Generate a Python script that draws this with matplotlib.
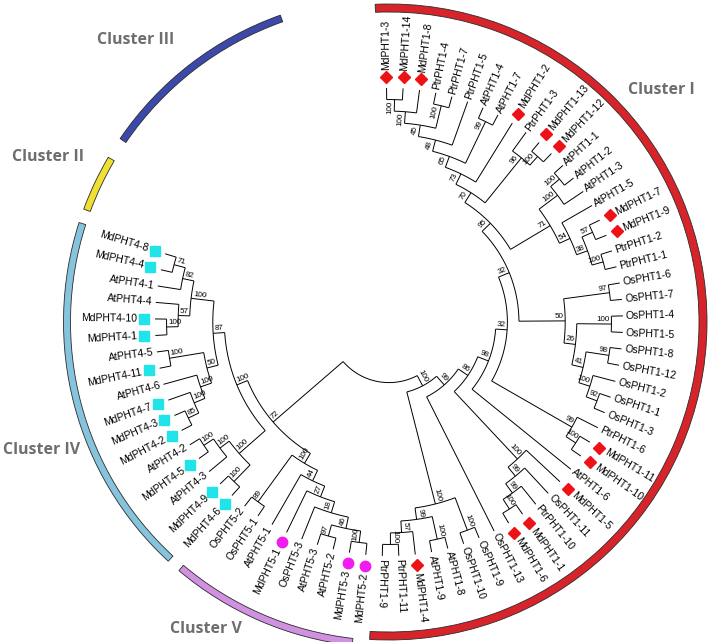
import numpy as np
import matplotlib
matplotlib.use("Agg")
import matplotlib.pyplot as plt
from matplotlib.patches import Wedge

# ---- tree data (newick, bootstrap values after each clade) ----
# leaves are listed clockwise starting at the top
pht1_upper = ("((((((((MdPHT1-3,MdPHT1-14)100,MdPHT1-8)100,(PtrPHT1-4,PtrPHT1-7)100)45,PtrPHT1-5)48,"
              "(AtPHT1-4,AtPHT1-7)99)65,MdPHT1-2)73,(PtrPHT1-3,(MdPHT1-13,MdPHT1-12)100)96)70,"
              "(((AtPHT1-1,AtPHT1-2)100,AtPHT1-3)100,(AtPHT1-5,((MdPHT1-7,MdPHT1-9)57,"
              "(PtrPHT1-2,PtrPHT1-1)100)38)54)71)95")
pht1_rice = ("((OsPHT1-6,OsPHT1-7)97,((OsPHT1-4,OsPHT1-5)100,((OsPHT1-8,OsPHT1-12)98,"
             "(OsPHT1-2,(OsPHT1-1,OsPHT1-3)92)100)41)26)50")
pht1_mid = "(PtrPHT1-6,(MdPHT1-11,MdPHT1-10)100)99"
pht1_md5 = "(MdPHT1-5,(OsPHT1-11,(PtrPHT1-10,(MdPHT1-1,MdPHT1-6)100)99)99)100"
pht1_lower = ("((OsPHT1-9,OsPHT1-10)100,((AtPHT1-8,AtPHT1-9)100,"
              "(MdPHT1-4,(PtrPHT1-11,PtrPHT1-9)100)57)99)100")
cluster_1 = (f"((((({pht1_upper},{pht1_rice})32,{pht1_mid})32,AtPHT1-6)98,"
             f"{pht1_md5})86,OsPHT1-13)99,{pht1_lower})100")
cluster_5 = ("((((((MdPHT5-2,MdPHT5-3)100,(AtPHT5-2,AtPHT5-3)97)46,OsPHT5-3)18,MdPHT5-1)27,"
             "AtPHT5-1)44,(OsPHT5-1,OsPHT5-2)89)100")
cluster_4 = ("(((MdPHT4-6,MdPHT4-9)100,(AtPHT4-3,(MdPHT4-5,AtPHT4-2)100)100)100,"
             "(((((MdPHT4-2,MdPHT4-3)85,MdPHT4-7)100,AtPHT4-6)100,(MdPHT4-11,AtPHT4-5)100)50,"
             "(((MdPHT4-1,MdPHT4-10)100,AtPHT4-4)57,(AtPHT4-1,(MdPHT4-4,MdPHT4-8)71)82)100)87)100")
cluster_2 = "((MdPHT2-1,MdPHT2-2)100,AtPHT2-1)100"
cluster_3 = ("(MdPHT3-5,(((MdPHT3-2,MdPHT3-4)99,AtPHT3-3)100,(AtPHT3-2,(MdPHT3-1,(AtPHT3-1,"
             "(MdPHT3-3,(MdPHT3-7,MdPHT3-6)93)100)72)89)99)100)96")
newick = f"(({cluster_1},({cluster_5},{cluster_4})72)90,({cluster_2},{cluster_3})90)"

# apple gene families -> marker
family_marker = {"1": ("D", "#ec1218", 6.2), "2": ("^", "#f5e000", 7.5),
                 "3": ("^", "#1414e0", 7.5), "4": ("s", "#20e4ea", 6.5),
                 "5": ("o", "#f01cf0", 7.5)}

# cluster rings: name, start angle, end angle, colour, label position (left edge, centre y)
ring_names = ["Cluster I", "Cluster II", "Cluster III", "Cluster IV", "Cluster V"]
ring_spans = [(-93.5, 92.5), (149.6, 159.7), (109.5, 145.7), (162.2, 227.3), (229.8, 263.5)]
ring_colors = ["#d7242b", "#efe033", "#3c49aa", "#86c4dd", "#d190e0"]
ring_label_xy = [(628, 90), (12, 157), (97, 40), (3, 450), (170, 629)]

# ---- layout ----
CX, CY = 389, 320
R_LEAF, DR = 234, 11.56
A0, DA = 90.6, 4.05


def parse(s):
    pos = 0

    def node():
        nonlocal pos
        if s[pos] == "(":
            pos += 1
            kids = [node()]
            while s[pos] == ",":
                pos += 1
                kids.append(node())
            pos += 1
            j = pos
            while pos < len(s) and s[pos] not in ",()":
                pos += 1
            return {"kids": kids, "label": s[j:pos]}
        j = pos
        while s[pos] not in ",()":
            pos += 1
        return {"name": s[j:pos]}
    return node()


root = parse(newick)
leaves = []


def collect(n):
    if "name" in n:
        leaves.append(n)
    else:
        for k in n["kids"]:
            collect(k)


collect(root)
for i, lf in enumerate(leaves):
    lf["ang"] = A0 - i * DA


def layout(n):
    if "name" in n:
        n["h"], n["r"] = 0, R_LEAF
        return
    for k in n["kids"]:
        layout(k)
    n["h"] = 1 + max(k["h"] for k in n["kids"])
    n["r"] = R_LEAF - n["h"] * DR
    n["ang"] = (n["kids"][0]["ang"] + n["kids"][-1]["ang"]) / 2


layout(root)


def pol(r, a):
    t = np.radians(a)
    return CX + r * np.cos(t), CY + r * np.sin(t)


def norm(a):
    return (a + 180) % 360 - 180


def orient(a):
    an = norm(a)
    if -93 <= an <= 93:
        return an, True
    return (an - 180 if an > 0 else an + 180), False


fig = plt.figure(figsize=(7.08, 6.42), dpi=100)
ax = fig.add_axes([0, 0, 1, 1])
ax.set_xlim(0, 708)
ax.set_ylim(0, 642)
ax.axis("off")

LW = 0.7
txt = dict(family="Liberation Sans", rotation_mode="anchor")


def draw(n):
    if "name" in n:
        return
    a1, a2 = n["kids"][-1]["ang"], n["kids"][0]["ang"]
    t = np.linspace(a1, a2, max(8, int(abs(a2 - a1) * 3)))
    x, y = pol(n["r"], t)
    ax.plot(x, y, color="black", lw=LW, solid_capstyle="butt")
    for k in n["kids"]:
        x, y = pol(np.array([n["r"], k["r"]]), k["ang"])
        ax.plot(x, y, color="black", lw=LW, solid_capstyle="butt")
        draw(k)
    if n is not root and n.get("label"):
        rot, right = orient(n["ang"])
        x, y = pol(n["r"] - 1.5, n["ang"])
        t = np.radians(n["ang"])
        px, py = -np.sin(t), np.cos(t)
        s = 1 if right else -1
        ax.text(x + s * px, y + s * py, n["label"], fontsize=5.8, rotation=rot,
                ha="right" if right else "left", va="bottom", **txt)


draw(root)

for lf in leaves:
    a = lf["ang"]
    rot, right = orient(a)
    name = lf["name"]
    r_text = R_LEAF + 3
    if name.startswith("MdPHT"):
        mk, col, ms = family_marker[name[5]]
        mx, my = pol(R_LEAF + 11, a)
        ax.plot(mx, my, marker=mk, color=col, ms=ms, mec=col, zorder=4)
        r_text = R_LEAF + 18
    x, y = pol(r_text, a)
    ax.text(x, y, name, fontsize=7.5, rotation=rot, ha="left" if right else "right",
            va="center", **txt)

# cluster rings
for name, (t1, t2), col, (lx, ly) in zip(ring_names, ring_spans, ring_colors, ring_label_xy):
    rr, w = (314, 8) if name == "Cluster I" else (322, 7)
    ax.add_patch(Wedge((CX, CY), rr + w / 2, t1, t2, width=w, facecolor=col,
                       edgecolor="#2b2b2b", lw=0.6, zorder=3))
    ax.text(lx, 642 - ly, name, fontsize=11.5, color="#6e6e6e", fontweight="bold",
            family="Open Sans", ha="left", va="center")

fig.savefig("out.png", dpi=100)
